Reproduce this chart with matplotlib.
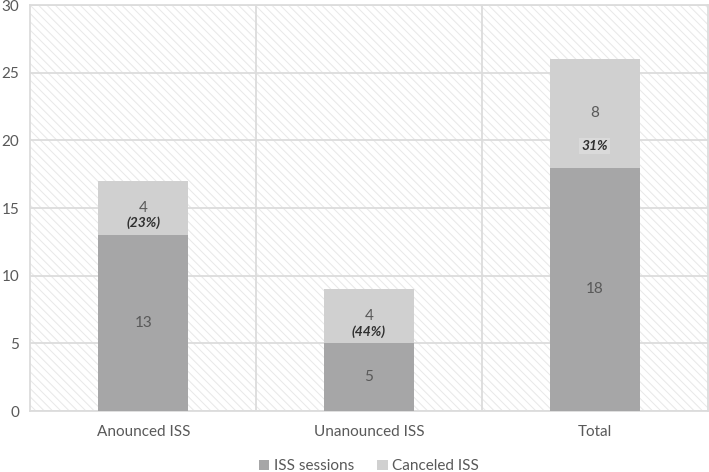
import matplotlib.pyplot as plt
from matplotlib.patches import Rectangle

# Datos del grafico
categories = ["Anounced ISS", "Unanounced ISS", "Total"]
sessions = [13, 5, 18]
canceled = [4, 4, 8]
percent_labels = ["(23%)", "(44%)", "31%"]

plt.rcParams["font.family"] = ["Lato", "DejaVu Sans"]
plt.rcParams["hatch.linewidth"] = 0.7

fig = plt.figure(figsize=(7.09, 4.72), dpi=100)
ax = fig.add_axes([0.043, 0.129, 0.955, 0.86])

grid_color = "#dcdcdc"
text_color = "#595959"

# Fondo rayado del area de trazado
ax.add_patch(Rectangle((0, 0), 1, 1, transform=ax.transAxes, facecolor="white",
                       edgecolor="#e8e8e8", hatch="\\\\\\\\", linewidth=0, zorder=0))

x = list(range(len(categories)))
ax.bar(x, sessions, width=0.4, color="#a6a6a7", label="ISS sessions", zorder=3)
ax.bar(x, canceled, width=0.4, bottom=sessions, color="#d0d0d0",
       label="Canceled ISS", zorder=3)

# Etiquetas de valores
for i in x:
    ax.text(i, sessions[i] / 2, str(sessions[i]), ha="center", va="center",
            fontsize=11, color=text_color, zorder=4)
    mid = sessions[i] + canceled[i] / 2
    ax.text(i, mid, str(canceled[i]), ha="center", va="center",
            fontsize=11, color=text_color, zorder=4)
    if i < 2:
        ax.text(i, mid - 1.1, percent_labels[i], ha="center", va="center",
                fontsize=10, color="#303030", fontweight="bold",
                fontstyle="italic", zorder=4)
    else:
        ax.text(i, sessions[i] + 1.6, percent_labels[i], ha="center",
                va="center", fontsize=10, color="#303030", fontweight="bold",
                fontstyle="italic", zorder=4,
                bbox=dict(boxstyle="square,pad=0.15", facecolor="#dadada",
                          edgecolor="none"))

ax.set_xlim(-0.5, 2.5)
ax.set_ylim(0, 30)
ax.set_yticks(range(0, 31, 5))
ax.set_xticks(x)
ax.set_xticklabels(categories)

ax.grid(axis="y", color=grid_color, linewidth=1.3, zorder=1)
for b in [0.5, 1.5]:
    ax.axvline(b, color=grid_color, linewidth=1.3, zorder=1)

for s in ax.spines.values():
    s.set_color(grid_color)
    s.set_linewidth(1.3)

ax.tick_params(axis="both", length=0, labelsize=11, colors=text_color)
ax.tick_params(axis="x", pad=10)
ax.tick_params(axis="y", pad=8)

ax.legend(loc="upper center", bbox_to_anchor=(0.5, -0.085), ncol=2,
          frameon=False, fontsize=11, labelcolor=text_color,
          handlelength=0.7, handleheight=0.7, handletextpad=0.3,
          columnspacing=1.5)

fig.savefig("out.png", dpi=100)
